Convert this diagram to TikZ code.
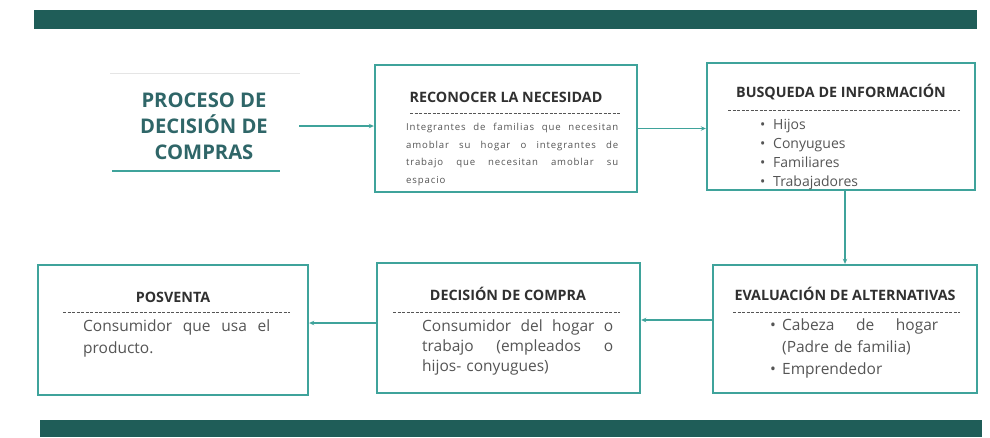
\documentclass[tikz,border=0pt]{standalone}
\usepackage{fontspec}
\setmainfont{Open Sans}
\usetikzlibrary{arrows.meta}
\definecolor{barc}{HTML}{1F5D58}
\definecolor{tealc}{HTML}{3FA39B}
\definecolor{ttlc}{HTML}{2F6668}
\definecolor{txtc}{HTML}{555555}
\definecolor{hdc}{HTML}{303030}
\newcommand\bulbox[1]{\makebox[#1][l]{\textbullet}}
\begin{document}
\begin{tikzpicture}[x=1pt,y=-1pt,
  stage/.style={draw=tealc, line width=2.4pt, rectangle, inner sep=0},
  head/.style={font=\bfseries\fontsize{14.3}{17}\selectfont, text=hdc, anchor=base, inner sep=0},
  sepline/.style={draw=txtc, line width=0.9pt, dash pattern=on 3pt off 1.5pt},
  body/.style={text=txtc, inner sep=0, anchor=north west, align=left},
  conn/.style={draw=tealc, line width=1.3pt, -{Stealth[length=5pt,width=4.5pt]}},
  barbox/.style={fill=barc, draw=none}
]
\useasboundingbox (0,0) rectangle (990,437);
\fill[white] (0,0) rectangle (990,437);
% bars
\fill[barbox] (34,10) rectangle (977,29);
\fill[barbox] (40,420) rectangle (982,437);
% title
\draw[black!10, line width=0.8pt] (110,73) -- (300,73);
\node[font=\bfseries\fontsize{20.2}{26}\selectfont, text=ttlc, align=center, minimum width=190, inner sep=0] (title) at (204,126) {PROCESO DE\\DECISIÓN DE\\COMPRAS};
\draw[tealc, line width=1.5pt] (112,171) -- (280,171);
% boxes
\node[stage, minimum width=262, minimum height=127] (b1) at (506,128.5) {};
\node[stage, minimum width=268, minimum height=127] (b2) at (841,126.5) {};
\node[stage, minimum width=264, minimum height=128] (b3) at (845,329) {};
\node[stage, minimum width=263, minimum height=130] (b4) at (508.5,328) {};
\node[stage, minimum width=270, minimum height=130] (b5) at (173,330) {};
% box 1
\node[head] (h1) at (506,102) {RECONOCER LA NECESIDAD};
\draw[sepline] (410,113) -- (620,113);
\node[body, text width=212, font=\fontsize{9.6}{17.5}\selectfont\addfontfeatures{LetterSpace=9}] (t1) at (406,123) {Integrantes\hfill de\hfill familias\hfill que\hfill necesitan\\amoblar\hfill su\hfill hogar\hfill o\hfill integrantes\hfill de\\trabajo\hfill que\hfill necesitan\hfill amoblar\hfill su\\espacio};
% box 2
\node[head] (h2) at (841,97) {BUSQUEDA DE INFORMACIÓN};
\draw[sepline] (728,110) -- (960,110);
\node[body, font=\fontsize{14}{18.7}\selectfont] (t2) at (760,119.5) {\bulbox{13pt}Hijos\\\bulbox{13pt}Conyugues\\\bulbox{13pt}Familiares\\\bulbox{13pt}Trabajadores};
% box 3
\node[head] (h3) at (845,300) {EVALUACIÓN DE ALTERNATIVAS};
\draw[sepline] (733,312) -- (960,312);
\node[body, text width=168, font=\fontsize{15.5}{22}\selectfont] (t3) at (770,319) {\bulbox{12pt}Cabeza\hfill de\hfill hogar\\\hspace*{12pt}(Padre de familia)\\\bulbox{12pt}Emprendedor};
% box 4
\node[head] (h4) at (508,300) {DECISIÓN DE COMPRA};
\draw[sepline] (393,312) -- (620,312);
\node[body, text width=191, font=\fontsize{15.5}{20}\selectfont] (t4) at (422,320) {Consumidor\hfill del\hfill hogar\hfill o\\trabajo\hfill (empleados\hfill o\\hijos- conyugues)};
% box 5
\node[head] (h5) at (173,302) {POSVENTA};
\draw[sepline] (63,312) -- (290,312);
\node[body, text width=187, font=\fontsize{15.5}{22}\selectfont] (t5) at (83,320) {Consumidor\hfill que\hfill usa\hfill el\\producto.};
% connectors
\draw[conn] (title.east) -- (b1.west |- title.east);
\draw[conn] (b1.east) -- (b1.east -| b2.west);
\draw[conn] (b2.south -| b3.north) -- (b3.north);
\draw[conn] ([yshift=9pt]b3.west) -- ([yshift=9pt]b3.west -| b4.east);
\draw[conn] ([yshift=5pt]b4.west) -- ([yshift=5pt]b4.west -| b5.east);
\end{tikzpicture}
\end{document}
